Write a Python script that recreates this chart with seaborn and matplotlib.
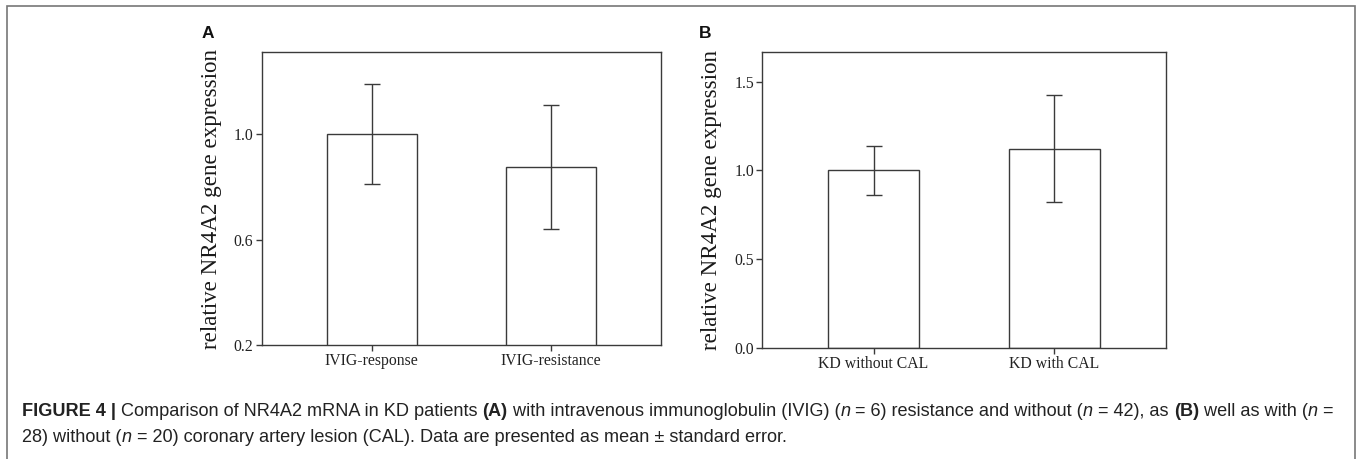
import numpy as np
import pandas as pd
import matplotlib
matplotlib.use('Agg')
import matplotlib.pyplot as plt
import seaborn as sns
from matplotlib.patches import Rectangle

# ============================================================
# DATOS
# ============================================================
grupos_a = ['IVIG-response', 'IVIG-resistance']
media_a = [1.00, 0.875]
se_a = [0.19, 0.235]

grupos_b = ['KD without CAL', 'KD with CAL']
media_b = [1.00, 1.123]
se_b = [0.14, 0.30]

ticks_a = [0.2, 0.6, 1.0]
ticks_b = [0.0, 0.5, 1.0, 1.5]

ylabel = 'relative NR4A2 gene expression'

caption_1 = [
    ('FIGURE 4 | ', 'bold', 'normal'),
    ('Comparison of NR4A2 mRNA in KD patients ', 'normal', 'normal'),
    ('(A)', 'bold', 'normal'),
    (' with intravenous immunoglobulin (IVIG) (', 'normal', 'normal'),
    ('n', 'normal', 'italic'),
    (' = 6) resistance and without (', 'normal', 'normal'),
    ('n', 'normal', 'italic'),
    (' = 42), as ', 'normal', 'normal'),
    ('(B)', 'bold', 'normal'),
    (' well as with (', 'normal', 'normal'),
    ('n', 'normal', 'italic'),
    (' =', 'normal', 'normal'),
]
caption_2 = [
    ('28) without (', 'normal', 'normal'),
    ('n', 'normal', 'italic'),
    (' = 20) coronary artery lesion (CAL). Data are presented as mean \u00b1 standard error.', 'normal', 'normal'),
]

# ============================================================
# FIGURA
# ============================================================
sns.set_theme(style='white')
plt.rcParams['font.family'] = ['Liberation Serif', 'DejaVu Serif']

gris = '#3a3a3a'
fig = plt.figure(figsize=(13.58, 4.59), dpi=100)

ax_a = fig.add_axes([0.1927, 0.2484, 0.2940, 0.6377])
ax_b = fig.add_axes([0.5613, 0.2425, 0.2971, 0.6436])


def panel(ax, grupos, media, se, ticks, ylim):
    df = pd.DataFrame({'grupo': grupos, 'valor': media})
    sns.barplot(data=df, x='grupo', y='valor', ax=ax, errorbar=None,
                color='white', edgecolor=gris, linewidth=1.0, width=0.5)
    ax.errorbar(np.arange(len(grupos)), media, yerr=se, fmt='none',
                ecolor=gris, elinewidth=1.0, capsize=6, capthick=1.0)
    ax.set_xlim(-0.615, 1.615)
    ax.set_ylim(*ylim)
    ax.set_yticks(ticks)
    ax.set_yticklabels([f'{t:.1f}' for t in ticks])
    ax.set_xlabel('')
    ax.set_ylabel(ylabel, fontsize=16.6, color='#1a1a1a')
    ax.yaxis.set_label_coords(-0.10, 0.5)
    ax.tick_params(axis='both', which='both', direction='out', length=4,
                   width=1.0, color=gris, labelsize=11.3, labelcolor='#222222',
                   bottom=True, left=True, pad=2)
    for sp in ax.spines.values():
        sp.set_visible(True)
        sp.set_color(gris)
        sp.set_linewidth(1.0)


panel(ax_a, grupos_a, media_a, se_a, ticks_a, (0.2, 1.31))
panel(ax_b, grupos_b, media_b, se_b, ticks_b, (0.0, 1.666))

fig.text(208 / 1358, 1 - 34 / 459, 'A', fontsize=12.5, fontweight='bold',
         family='Liberation Sans', ha='center', va='center', color='#111111')
fig.text(705 / 1358, 1 - 34 / 459, 'B', fontsize=12.5, fontweight='bold',
         family='Liberation Sans', ha='center', va='center', color='#111111')

# marco exterior
fig.add_artist(Rectangle((7 / 1358, -0.05), (1355 - 7) / 1358, 1.05 - 6 / 459,
                         transform=fig.transFigure, fill=False,
                         edgecolor='#777777', linewidth=1.2))

# leyenda de la figura (texto con partes en negrita / cursiva)
fig.canvas.draw()
renderer = fig.canvas.get_renderer()


def linea(partes, x0, y, size=13.05):
    x = x0
    for txt, peso, estilo in partes:
        t = fig.text(x, y, txt, fontsize=size, fontweight=peso, style=estilo,
                     family='Liberation Sans', color='#222222',
                     ha='left', va='center')
        bb = t.get_window_extent(renderer=renderer)
        x += bb.width / fig.bbox.width


linea(caption_1, 22 / 1358, 1 - 412 / 459)
linea(caption_2, 22 / 1358, 1 - 438 / 459)

fig.savefig('out.png', dpi=100)
